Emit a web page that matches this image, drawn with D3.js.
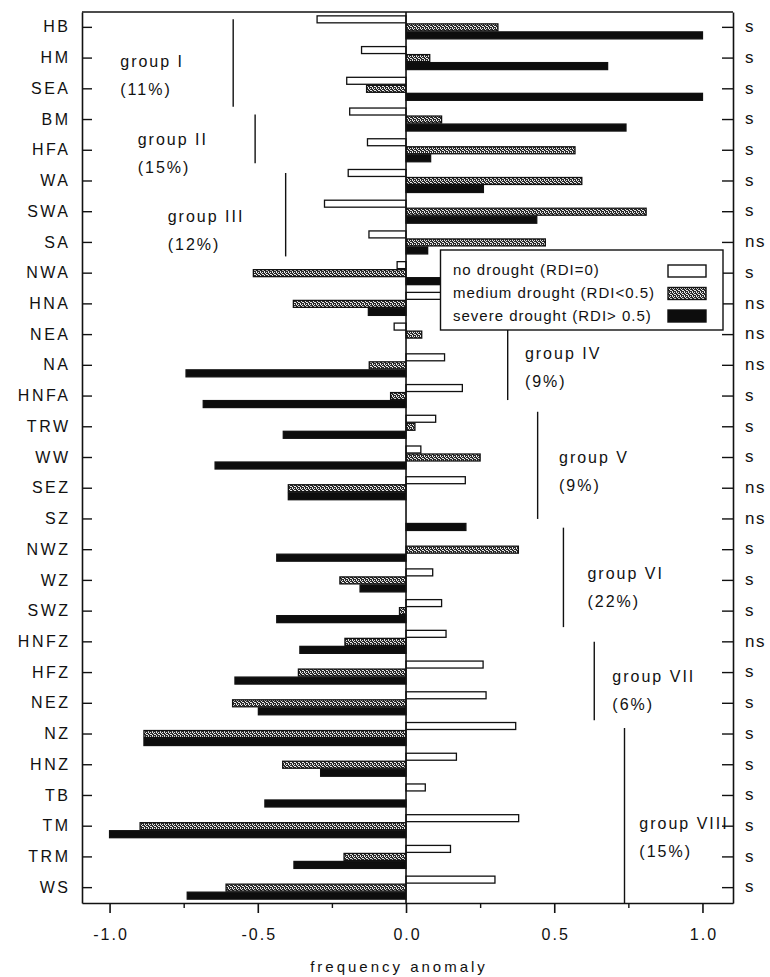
<!DOCTYPE html>
<html>
<head>
<meta charset="utf-8">
<script src="https://cdn.jsdelivr.net/npm/d3@7"></script>
<style>
  html, body { margin: 0; padding: 0; background: #fff; }
  svg { display: block; }
  text { font-family: "Liberation Sans", Arial, Helvetica, sans-serif; fill: #111; }
</style>
</head>
<body>
<div id="chart"></div>
<script>
// ---------------- data ----------------
const categories = ["HB","HM","SEA","BM","HFA","WA","SWA","SA","NWA","HNA","NEA","NA","HNFA","TRW","WW","SEZ","SZ","NWZ","WZ","SWZ","HNFZ","HFZ","NEZ","NZ","HNZ","TB","TM","TRM","WS"];
const seriesNames = ["no drought (RDI=0)", "medium drought (RDI<0.5)", "severe drought (RDI> 0.5)"];
const noDrought = [-0.30,-0.15,-0.20,-0.19,-0.13,-0.195,-0.275,-0.125,-0.03,0.13,-0.04,0.13,0.19,0.10,0.05,0.20,0,0,0.09,0.12,0.135,0.26,0.27,0.37,0.17,0.065,0.38,0.15,0.30];
const mediumDrought = [0.31,0.08,-0.133,0.12,0.57,0.593,0.81,0.47,-0.515,-0.38,0.053,-0.124,-0.052,0.03,0.25,-0.397,0,0.379,-0.223,-0.022,-0.206,-0.363,-0.585,-0.884,-0.416,0,-0.897,-0.209,-0.607];
const severeDrought = [1.0,0.68,1.0,0.742,0.083,0.261,0.441,0.073,0.15,-0.127,0,-0.742,-0.684,-0.414,-0.644,-0.397,0.202,-0.436,-0.155,-0.436,-0.358,-0.577,-0.498,-0.884,-0.288,-0.476,-1.0,-0.378,-0.738];
const significance = ["s","s","s","s","s","s","s","ns","s","ns","ns","ns","s","s","s","ns","ns","s","s","s","ns","s","s","s","s","s","s","s","s"];
const majorTicks = [-1.0,-0.5,0.0,0.5,1.0];
const minorTicks = [-0.75,-0.25,0.25,0.75];
const groupNames = ["group I","group II","group III","group IV","group V","group VI","group VII","group VIII"];
const groupShares = ["(11%)","(15%)","(12%)","(9%)","(9%)","(22%)","(6%)","(15%)"];
const groupFirst = ["HB","BM","WA","NWA","TRW","NWZ","HNFZ","NZ"];
const groupLast = ["SEA","HFA","SA","HNFA","SZ","SWZ","NEZ","WS"];
const groupLineX = [-0.583,-0.509,-0.406,0.343,0.444,0.531,0.635,0.737];
const groupLabelX = [-0.964,-0.905,-0.804,0.401,0.516,0.612,0.696,0.787];
const groupLabelAnchor = ["HM","HFA","SWA","NA","WW","WZ","HFZ","TM"];
const xTitle = "frequency anomaly";

// ---------------- layout ----------------
const W = 770, H = 977;
const mLeft = 82, mRight = 733, mTop = 12, mBottom = 903;
const lineTopOff = [-8,-5,-8,-10,-15,-22,0,-6];
const lineBotOff = [18,13,14,4,0,16,17,16];
const labelYOff = [8.6,-5.3,10,-6.7,5.5,-1.7,9.5,2.5];

const svg = d3.select("#chart").append("svg").attr("width", W).attr("height", H);

const defs = svg.append("defs");
const pat = defs.append("pattern").attr("id","med").attr("patternUnits","userSpaceOnUse")
  .attr("width",4).attr("height",4);
pat.append("rect").attr("width",4).attr("height",4).attr("fill","#2a2a2a");
[[0,0],[2,0],[1,1],[3,2],[0,3],[2,2]].forEach(p => pat.append("rect").attr("x",p[0]).attr("y",p[1]).attr("width",1).attr("height",1).attr("fill","#e8e8e8"));

const x = d3.scaleLinear().domain([-1.093, 1.103]).range([mLeft, mRight]);
const y = d3.scaleBand().domain(categories).range([mTop, mBottom]).paddingInner(0).paddingOuter(0);
const yc = c => y(c) + y.bandwidth() / 2;
const inner = d3.scaleBand().domain(seriesNames).range([-11.5, 11.5]).paddingInner(0.13);

const fills = ["#fff", "url(#med)", "#0d0d0d"];
const seriesValues = [noDrought, mediumDrought, severeDrought];

// bars
seriesNames.forEach((s, si) => {
  const data = categories.map((c, i) => ({c, v: seriesValues[si][i]})).filter(d => d.v !== 0);
  svg.append("g").selectAll("rect").data(data).join("rect")
    .attr("x", d => x(Math.min(0, d.v)))
    .attr("width", d => Math.abs(x(d.v) - x(0)))
    .attr("y", d => yc(d.c) + inner(s))
    .attr("height", inner.bandwidth())
    .attr("fill", fills[si])
    .attr("stroke", "#111")
    .attr("stroke-width", 1.3);
});

// zero line
svg.append("line").attr("x1", x(0)).attr("x2", x(0)).attr("y1", mTop).attr("y2", mBottom)
  .attr("stroke", "#111").attr("stroke-width", 1.6);

// group lines and labels
groupNames.forEach((g, i) => {
  const y1 = yc(groupFirst[i]) + lineTopOff[i];
  const y2 = Math.min(mBottom, yc(groupLast[i]) + lineBotOff[i]);
  svg.append("line").attr("x1", x(groupLineX[i])).attr("x2", x(groupLineX[i]))
    .attr("y1", y1).attr("y2", y2).attr("stroke", "#111").attr("stroke-width", 1.4);
  const ly = yc(groupLabelAnchor[i]) + labelYOff[i];
  svg.append("text").attr("x", x(groupLabelX[i])).attr("y", ly)
    .attr("font-size", 16).attr("letter-spacing", 2).text(g);
  svg.append("text").attr("x", x(groupLabelX[i])).attr("y", ly + 28)
    .attr("font-size", 16).attr("letter-spacing", 2).text(groupShares[i]);
});

// frame
svg.append("line").attr("x1", mLeft).attr("x2", mRight).attr("y1", mTop).attr("y2", mTop)
  .attr("stroke", "#111").attr("stroke-width", 1.6);

// axes
const axBottom = svg.append("g").attr("transform", `translate(0,${mBottom})`)
  .call(d3.axisBottom(x).tickValues(majorTicks).tickSize(10).tickSizeOuter(0)
    .tickFormat(d => d.toFixed(1)));
axBottom.select(".domain").attr("stroke", "#111").attr("stroke-width", 1.6);
axBottom.selectAll(".tick line").attr("stroke", "#111").attr("stroke-width", 1.6);
axBottom.selectAll(".tick text").attr("y", 37).attr("dy", null)
  .attr("font-size", 16).attr("letter-spacing", 2).attr("dx", 1)
  .style("font-family", '"Liberation Sans", Arial, sans-serif').attr("fill", "#111");

const axMinor = svg.append("g").attr("transform", `translate(0,${mBottom})`)
  .call(d3.axisBottom(x).tickValues(minorTicks).tickSize(5).tickSizeOuter(0).tickFormat(""));
axMinor.select(".domain").remove();
axMinor.selectAll(".tick line").attr("stroke", "#111").attr("stroke-width", 1.4);

const axLeft = svg.append("g").attr("transform", `translate(${mLeft},0)`)
  .call(d3.axisLeft(y).tickSize(-10).tickSizeOuter(0).tickPadding(11.5));
axLeft.select(".domain").attr("stroke", "#111").attr("stroke-width", 1.6);
axLeft.selectAll(".tick line").attr("stroke", "#111").attr("stroke-width", 1.4);
axLeft.selectAll(".tick text").attr("font-size", 16).attr("letter-spacing", 2.5)
  .style("font-family", '"Liberation Sans", Arial, sans-serif').attr("fill", "#111");

const axRight = svg.append("g").attr("transform", `translate(${mRight},0)`)
  .call(d3.axisRight(y).tickSize(-11).tickSizeOuter(0).tickPadding(12)
    .tickFormat((d, i) => significance[i]));
axRight.select(".domain").attr("stroke", "#111").attr("stroke-width", 1.6);
axRight.selectAll(".tick line").attr("stroke", "#111").attr("stroke-width", 1.4);
axRight.selectAll(".tick text").attr("font-size", 17).attr("letter-spacing", 1.5)
  .attr("dy", "0.28em")
  .style("font-family", '"Liberation Sans", Arial, sans-serif').attr("fill", "#111");

// axis title
svg.append("text").attr("x", 399).attr("y", 972).attr("text-anchor", "middle")
  .attr("font-size", 15).attr("letter-spacing", 3).text(xTitle);

// legend
const lg = svg.append("g");
lg.append("rect").attr("x", 440.5).attr("y", 250).attr("width", 282.5).attr("height", 80)
  .attr("fill", "#fff").attr("stroke", "#111").attr("stroke-width", 1.4);
seriesNames.forEach((s, i) => {
  lg.append("text").attr("x", 453).attr("y", 275 + i * 23).attr("font-size", 15)
    .attr("letter-spacing", 1).text(s);
  lg.append("rect").attr("x", 668).attr("y", 265 + i * 22.5).attr("width", 38).attr("height", 12)
    .attr("fill", fills[i]).attr("stroke", "#111").attr("stroke-width", 1.4);
});
</script>
</body>
</html>
